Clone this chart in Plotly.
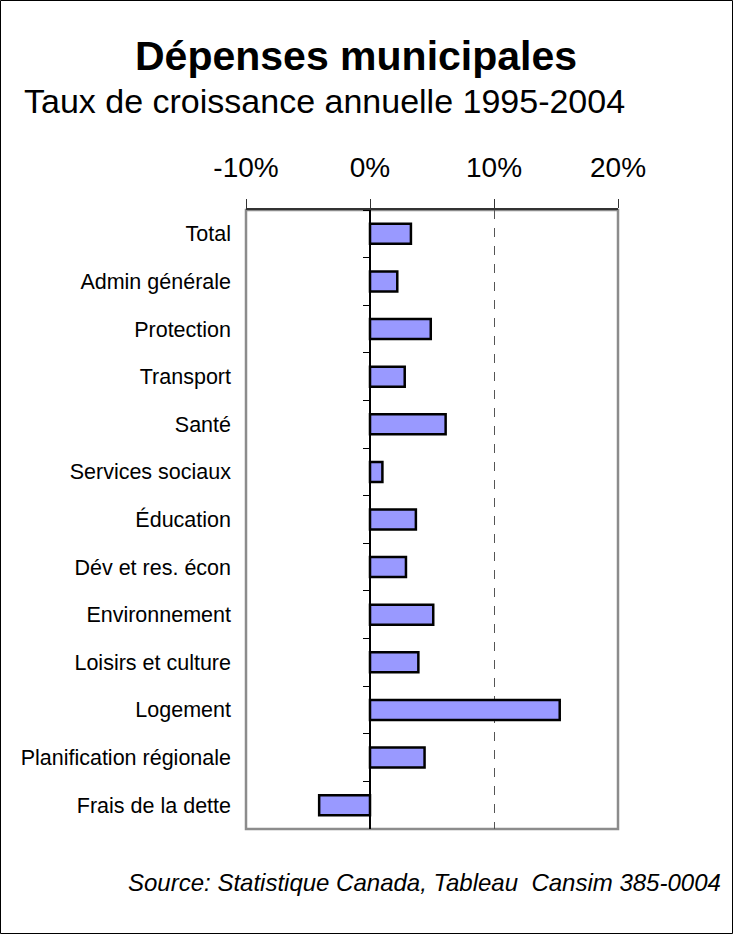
import plotly.graph_objects as go

categories = ["Total", "Admin générale", "Protection", "Transport", "Santé",
              "Services sociaux", "Éducation", "Dév et res. écon", "Environnement",
              "Loisirs et culture", "Logement", "Planification régionale", "Frais de la dette"]
values = [3.3, 2.2, 4.9, 2.8, 6.1, 1.0, 3.7, 2.9, 5.1, 3.9, 15.3, 4.4, -4.1]
x_ticks = [-10, 0, 10, 20]
x_tick_labels = ["-10%", "0%", "10%", "20%"]

W, H = 733, 934
L, R, T, B = 246, 733 - 618, 210, 934 - 829
PW, PH = W - L - R, H - T - B

def px(x):
    return (x - L) / PW

def py(y):
    return (H - B - y) / PH

FONT = "Liberation Sans, Arial, sans-serif"

fig = go.Figure()
fig.add_trace(go.Bar(
    x=values, y=categories, orientation="h",
    marker=dict(color="#9999FF", line=dict(color="black", width=2.5)),
    hoverinfo="x+y", showlegend=False, yaxis="y",
))
# invisible duplicate used only to carry the boundary ticks on the zero line
fig.add_trace(go.Bar(
    x=values, y=categories, orientation="h",
    marker=dict(color="rgba(0,0,0,0)", line=dict(width=0)),
    hoverinfo="skip", showlegend=False, yaxis="y2",
))

fig.update_layout(
    width=W, height=H,
    margin=dict(l=L, r=R, t=T, b=B),
    paper_bgcolor="white", plot_bgcolor="white",
    bargap=0.58, barmode="overlay",
    font=dict(family=FONT, color="black"),
    xaxis=dict(
        range=[-10, 20], side="top", tickvals=x_ticks, ticktext=x_tick_labels,
        tickfont=dict(size=28, family=FONT, color="black"),
        ticks="outside", ticklen=9, tickwidth=1, tickcolor="#333",
        showline=True, linecolor="#333", linewidth=2,
        showgrid=True, gridcolor="#555", griddash="dash", gridwidth=1,
        zeroline=True, zerolinecolor="black", zerolinewidth=1.5,
        ticklabelstandoff=11, fixedrange=True,
    ),
    yaxis=dict(
        type="category", categoryorder="array", categoryarray=categories,
        autorange="reversed",
        tickfont=dict(size=21.5, family=FONT, color="black"),
        ticks="", showline=False, showgrid=False, zeroline=False,
        ticklabelstandoff=14, fixedrange=True,
    ),
    yaxis2=dict(
        type="category", categoryorder="array", categoryarray=categories,
        autorange="reversed", overlaying="y", anchor="free", side="left",
        position=px(370), tickson="boundaries", ticks="outside", ticklen=7,
        tickcolor="black", tickwidth=1, showticklabels=False,
        showline=False, showgrid=False, zeroline=False, fixedrange=True,
    ),
    shapes=[
        dict(type="rect", xref="paper", yref="paper", x0=0, x1=1, y0=0, y1=1,
             line=dict(color="#8c8c8c", width=2.5), layer="below"),
        dict(type="rect", xref="paper", yref="paper",
             x0=px(0.5), x1=px(W - 0.5), y0=py(0.5), y1=py(H - 0.5),
             line=dict(color="black", width=1)),
    ],
    annotations=[
        dict(text="<b>Dépenses municipales</b>", xref="paper", yref="paper",
             x=px(356), y=py(56), xanchor="center", yanchor="middle",
             showarrow=False, font=dict(size=41, family=FONT, color="black")),
        dict(text="Taux de croissance annuelle 1995-2004", xref="paper", yref="paper",
             x=px(324), y=py(101), xanchor="center", yanchor="middle",
             showarrow=False, font=dict(size=34, family=FONT, color="black")),
        dict(text="<i>Source: Statistique Canada, Tableau  Cansim 385-0004</i>",
             xref="paper", yref="paper", x=px(723), y=py(883),
             xanchor="right", yanchor="middle", showarrow=False,
             font=dict(size=24, family=FONT, color="black")),
    ],
)

fig.write_html("out.html", config={"displayModeBar": False},
               post_script="document.body.style.margin='0';")
